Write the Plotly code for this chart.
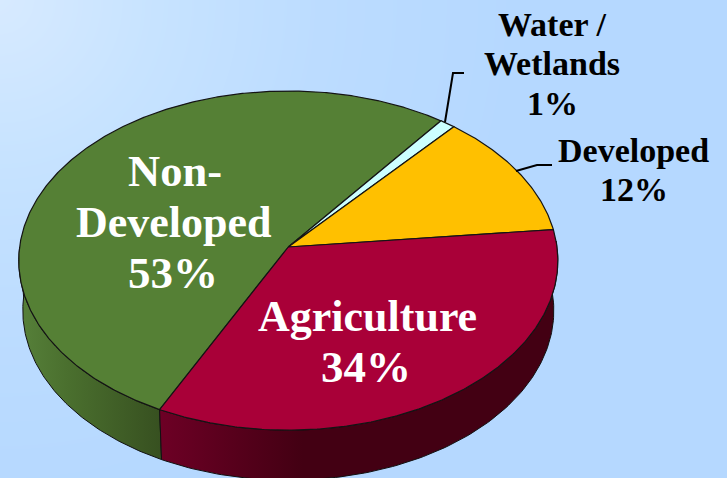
import numpy as np
import plotly.graph_objects as go

# ---- data ----
categories = ["Non-Developed", "Water / Wetlands", "Developed", "Agriculture"]
shares = [53, 1, 12, 34]
slice_colors = ["#558035", "#ccffff", "#ffc000", "#a90038"]

# ---- pie geometry (perspective projection of a flat disc) ----
W, H = 727, 478
X0, Y0, A, B, K = 288.3, 247.0, 268.7, 168.5, 0.08
DEPTH, BOTTOM_SCALE = 50.0, 0.985
START_ANGLE = 243.6


def project(deg, scale=1.0, dy=0.0):
    t = np.radians(deg)
    d = 1 + K * np.sin(t)
    return X0 + scale * A * np.cos(t) / d, Y0 + dy - B * np.sin(t) / d


fig = go.Figure()

# background glow from the top-left corner
gx = np.linspace(0, W, 60)
gy = np.linspace(0, H, 40)
dist = np.hypot(*np.meshgrid(gx, gy))
fig.add_trace(go.Heatmap(
    x=gx, y=gy, z=dist, zmin=0, zmax=520, zsmooth="best", showscale=False,
    hoverinfo="skip",
    colorscale=[[0, "#d7eaff"], [0.3, "#c7e3ff"], [0.62, "#bcdcff"], [1, "#b5d8ff"]],
))

# slice angle boundaries, clockwise on screen
edges = START_ANGLE - np.cumsum([0] + [s * 3.6 for s in shares])


def wall(a0, a1, x_start, x_stop, scale):
    ang = np.linspace(a0, a1, 120)
    tx, ty = project(ang)
    bx, by = project(ang[::-1], BOTTOM_SCALE, DEPTH)
    fig.add_trace(go.Scatter(
        x=np.r_[tx, bx, tx[0]], y=np.r_[ty, by, ty[0]], mode="lines",
        line=dict(color="#111111", width=1), fill="toself", hoverinfo="skip",
        fillgradient=dict(type="horizontal", start=x_start, stop=x_stop, colorscale=scale),
    ))


# side walls: only the front half of the disc is visible
wall(180, edges[0], 18, 162,
     [[0, "#57813a"], [0.35, "#4a6f2e"], [1, "#375020"]])
wall(edges[0], 362, 160, 555,
     [[0, "#6d0025"], [0.36, "#430013"], [1, "#430013"]])

# top face
for i, cat in enumerate(categories):
    ang = np.linspace(edges[i], edges[i + 1], max(8, int(shares[i] * 8)))
    x, y = project(ang)
    fig.add_trace(go.Scatter(
        x=np.r_[X0, x, X0], y=np.r_[Y0, y, Y0], mode="lines", name=cat,
        line=dict(color="#141414", width=1.2), fill="toself",
        fillcolor=slice_colors[i], hoverinfo="skip",
    ))

# leader lines
for lx, ly in [([445, 453, 464], [122, 73, 73]), ([516, 537, 552], [171, 165, 165])]:
    fig.add_trace(go.Scatter(x=lx, y=ly, mode="lines", hoverinfo="skip",
                             line=dict(color="#000000", width=2)))

# labels (one annotation per line to keep the tight line spacing)
labels = [
    ("Non-", 175, 171, 44.5, "white"), ("Developed", 174, 222, 44, "white"), ("53%", 173, 273, 45, "white"),
    ("Agriculture", 367, 316, 44, "white"), ("34%", 366, 367, 45, "white"),
    ("Water /", 552, 24, 34, "black"), ("Wetlands", 552, 63, 34, "black"), ("1%", 552, 103, 34, "black"),
    ("Developed", 633.5, 150, 34, "black"), ("12%", 634, 189, 34, "black"),
]
for txt, x, y, size, col in labels:
    fig.add_annotation(x=x, y=y, xref="x", yref="y", text=f"<b>{txt}</b>", showarrow=False,
                       xanchor="center", yanchor="middle",
                       font=dict(family="Liberation Serif", size=size, color=col))

fig.update_layout(
    width=W, height=H, margin=dict(l=0, r=0, t=0, b=0), showlegend=False,
    paper_bgcolor="#b5d8ff", plot_bgcolor="#b5d8ff",
    xaxis=dict(range=[0, W], visible=False, fixedrange=True),
    yaxis=dict(range=[H, 0], visible=False, fixedrange=True),
)
fig.write_html("out.html", config={"displayModeBar": False},
               post_script="document.body.style.margin='0';")
